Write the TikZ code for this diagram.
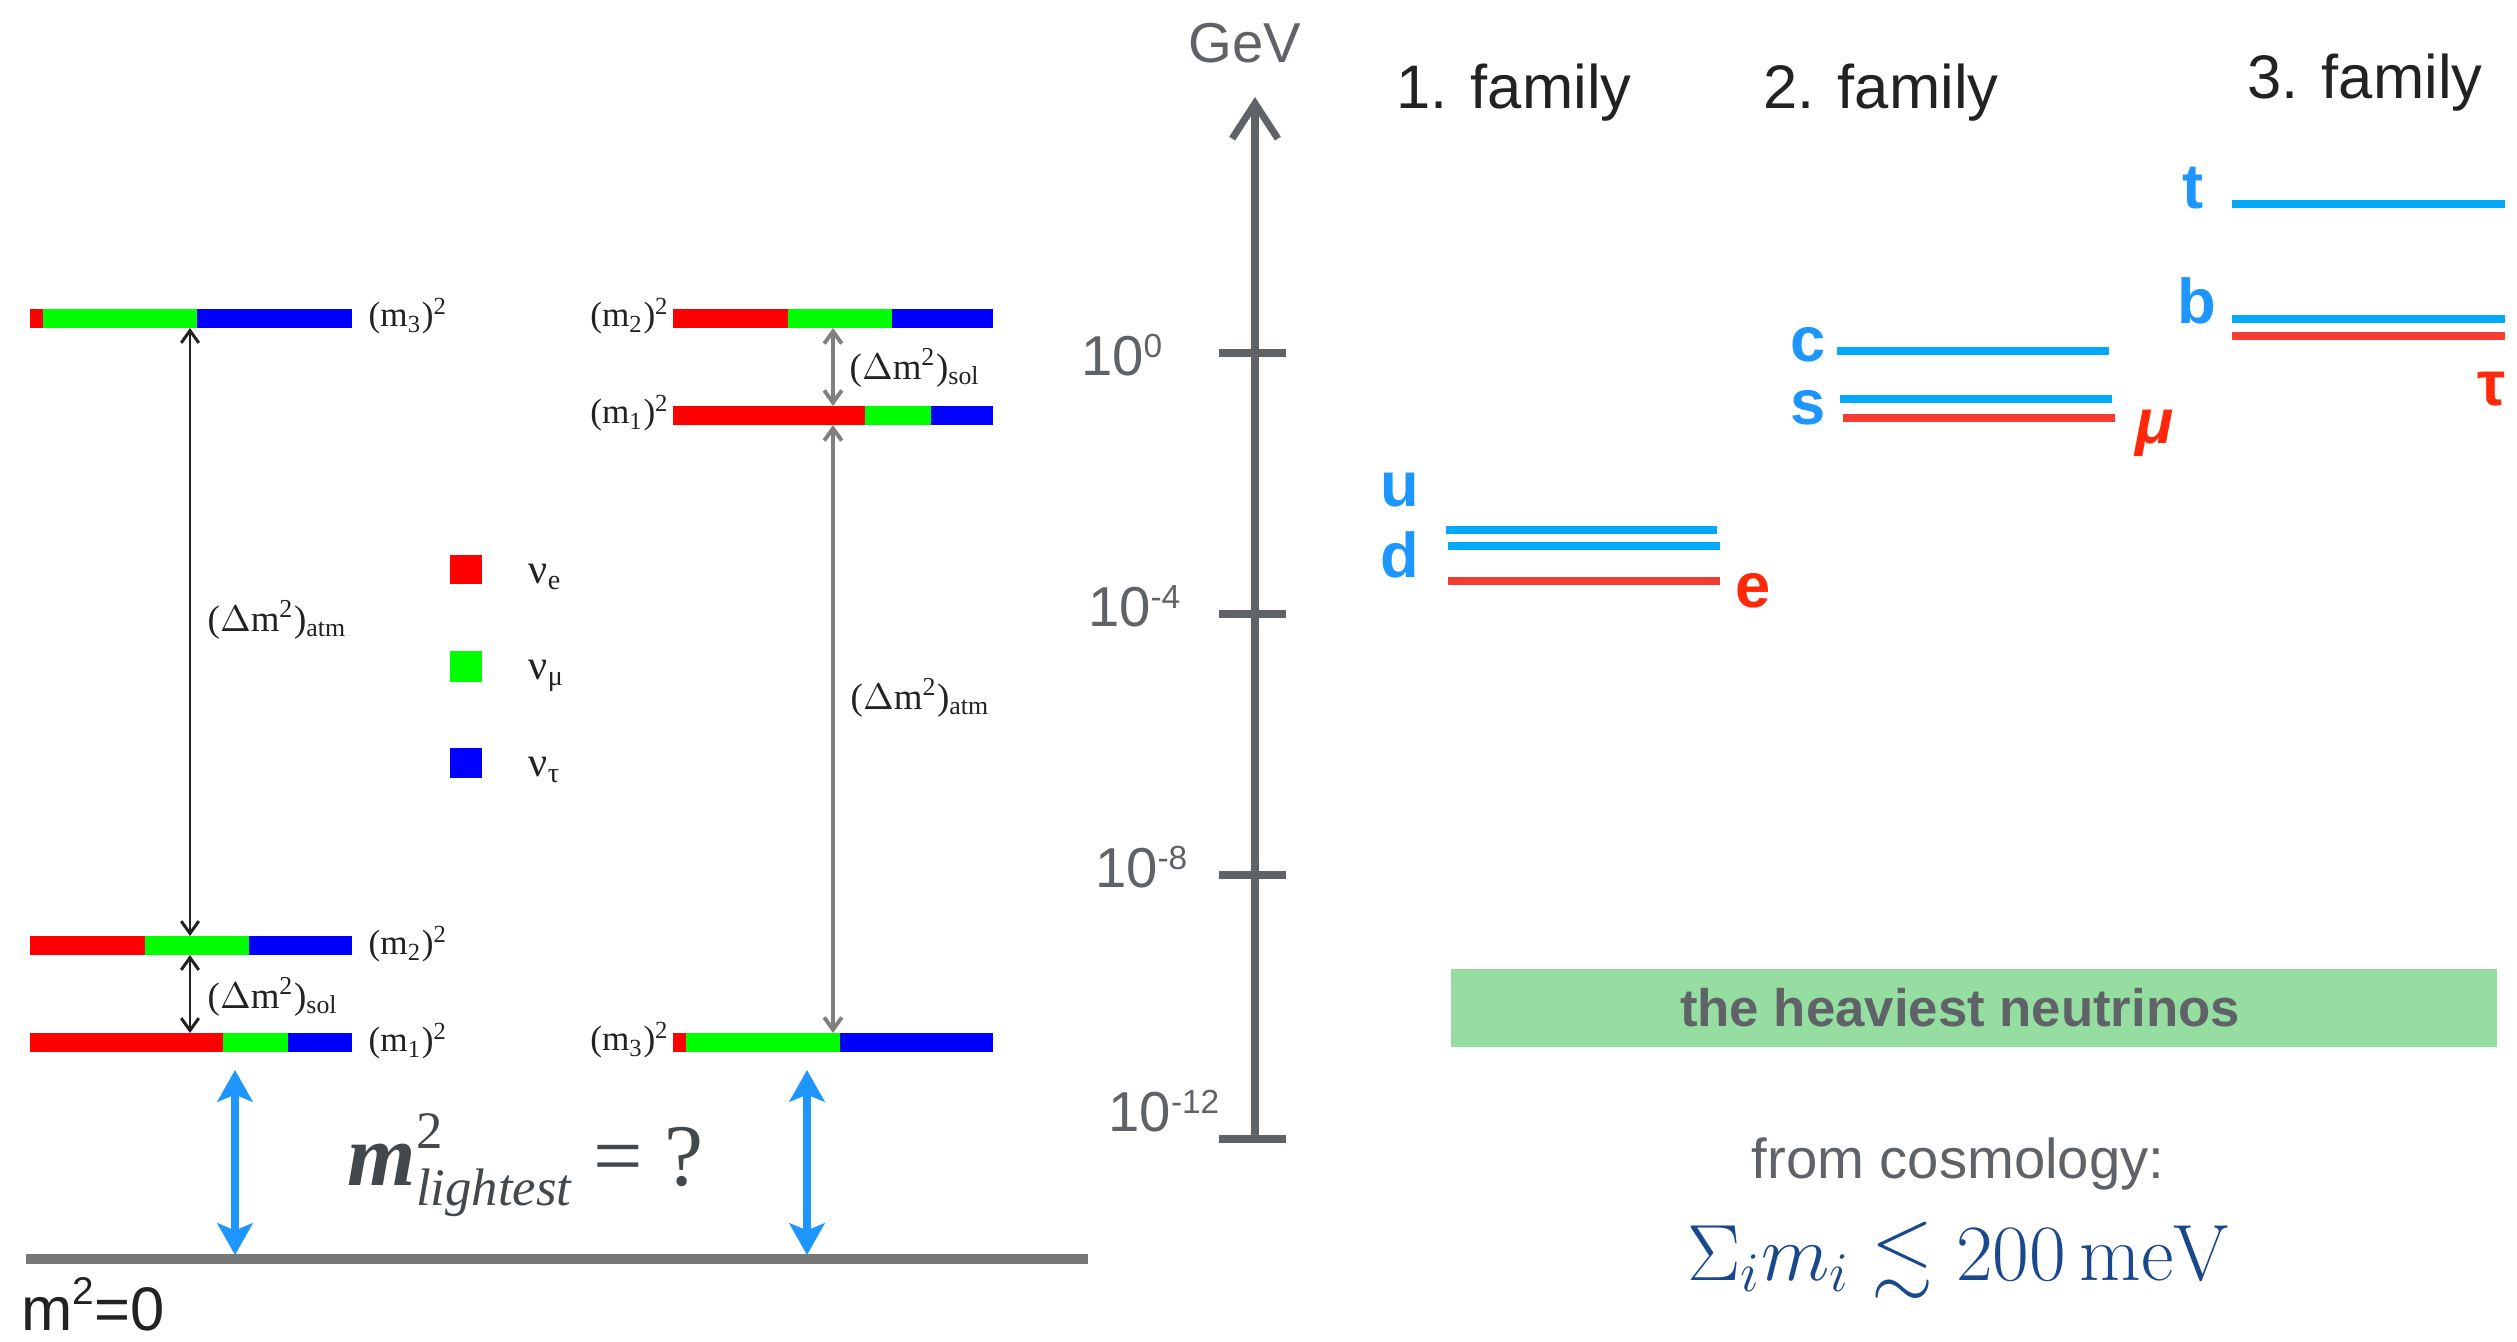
\RequirePackage{fix-cm}
\documentclass[tikz,border=0pt]{standalone}
\usepackage{fontspec}
\usepackage{amssymb}
\newfontfamily\hv{Liberation Sans}
\newfontfamily\tms{Liberation Serif}
\usetikzlibrary{arrows.meta}
\definecolor{nured}{RGB}{255,0,0}
\definecolor{nugreen}{RGB}{0,255,0}
\definecolor{nublue}{RGB}{0,0,255}
\definecolor{axgray}{RGB}{95,99,104}
\definecolor{qblue}{RGB}{3,170,250}
\definecolor{qred}{RGB}{245,60,48}
\definecolor{lblue}{RGB}{30,150,255}
\definecolor{lred}{RGB}{255,40,10}
\definecolor{boxgreen}{RGB}{150,221,161}
\definecolor{fblue}{RGB}{25,72,140}
\definecolor{mgray}{RGB}{67,72,77}
\definecolor{groundgray}{RGB}{119,119,119}
\definecolor{txtdark}{RGB}{34,34,34}
\newcommand\nubar[5]{%
  \fill[nured] (#2,#1) rectangle (#3,#1+19);
  \fill[nugreen] (#3,#1) rectangle (#4,#1+19);
  \fill[nublue] (#4,#1) rectangle (#5,#1+19);}
\tikzset{
  nlbl/.style={inner sep=0, font=\tms\fontsize{10}{12}\selectfont, text=txtdark},
  dlbl/.style={inner sep=0, font=\tms\fontsize{10.5}{12}\selectfont, text=txtdark},
  leg/.style={inner sep=0, font=\tms\fontsize{12}{14}\selectfont, text=txtdark},
  fam/.style={inner sep=0, font=\hv\fontsize{17.5}{21}\selectfont, text=txtdark},
  tickl/.style={inner sep=0, font=\hv\fontsize{16}{19}\selectfont, text=axgray},
  qlbl/.style={inner sep=0, font=\hv\bfseries\fontsize{18}{22}\selectfont, text=lblue},
  rlbl/.style={qlbl, text=lred},
  qline/.style={line width=2.3pt, qblue},
  rline/.style={line width=2.3pt, qred},
  nuarrow/.style={line width=0.85pt, txtdark, {Straight Barb[length=3.5pt,width=5pt]}-{Straight Barb[length=3.5pt,width=5pt]}},
  nuarrowg/.style={nuarrow, line width=1.1pt, black!50},
  bluearrow/.style={line width=2pt, lblue, {Stealth[length=9pt,width=10pt,inset=2pt]}-{Stealth[length=9pt,width=10pt,inset=2pt]}},
  axisln/.style={line width=2pt, axgray},
}
\newcommand\supx[1]{\raisebox{0.32em}{\fontsize{9.5}{11}\selectfont #1}}
\begin{document}
\begin{tikzpicture}[x=0.01cm,y=-0.01cm]
\useasboundingbox (0,0) rectangle (2517,1342);
% ---------- left (normal) neutrino spectrum
\nubar{309}{30}{43}{197}{352}
\nubar{936}{30}{145}{249}{352}
\nubar{1033}{30}{223}{288}{352}
\node[nlbl, anchor=west] (lm3) at (368,316) {(m\textsubscript{3})\textsuperscript{2}};
\node[nlbl, anchor=west] (lm2) at (368,944) {(m\textsubscript{2})\textsuperscript{2}};
\node[nlbl, anchor=west] (lm1) at (368,1041) {(m\textsubscript{1})\textsuperscript{2}};
\coordinate (la1) at (190,328);
\coordinate (la2) at (190,936);
\coordinate (ls1) at (190,955);
\coordinate (ls2) at (190,1033);
\draw[nuarrow] (la1) -- (la2);
\draw[nuarrow] (ls1) -- (ls2);
\node[dlbl, anchor=west] (latm) at (207,620) {($\Delta$m\textsuperscript{2})\textsubscript{atm}};
\node[dlbl, anchor=west] (lsol) at (207,997) {($\Delta$m\textsuperscript{2})\textsubscript{sol}};
% legend
\fill[nured] (450,555) rectangle (482,584);
\fill[nugreen] (450,651) rectangle (482,682);
\fill[nublue] (450,748) rectangle (482,778);
\node[leg, anchor=base west] (nue) at (528,583) {ν\textsubscript{e}};
\node[leg, anchor=base west] (numu) at (528,679) {ν\textsubscript{μ}};
\node[leg, anchor=base west] (nutau) at (528,776) {ν\textsubscript{τ}};
% ---------- right (inverted) neutrino spectrum
\nubar{309}{673}{788}{892}{993}
\nubar{406}{673}{865}{931}{993}
\nubar{1033}{673}{686}{840}{993}
\node[nlbl, anchor=east] (rm2) at (670,316) {(m\textsubscript{2})\textsuperscript{2}};
\node[nlbl, anchor=east] (rm1) at (670,413) {(m\textsubscript{1})\textsuperscript{2}};
\node[nlbl, anchor=east] (rm3) at (670,1040) {(m\textsubscript{3})\textsuperscript{2}};
\coordinate (rs1) at (833,328);
\coordinate (rs2) at (833,406);
\coordinate (ra1) at (833,425);
\coordinate (ra2) at (833,1033);
\draw[nuarrowg] (rs1) -- (rs2);
\draw[nuarrowg] (ra1) -- (ra2);
\node[dlbl, anchor=west] (rsol) at (849,368) {($\Delta$m\textsuperscript{2})\textsubscript{sol}};
\node[dlbl, anchor=west] (ratm) at (850,698) {($\Delta$m\textsuperscript{2})\textsubscript{atm}};
% ---------- ground and lightest mass
\coordinate (gl) at (26,1259);
\coordinate (gr) at (1088,1259);
\draw[line width=2.85pt, groundgray] (gl) -- (gr);
\coordinate (b1t) at (235,1070);
\coordinate (b1b) at (235,1255);
\coordinate (b2t) at (807,1070);
\coordinate (b2b) at (807,1255);
\draw[bluearrow] (b1t) -- (b1b);
\draw[bluearrow] (b2t) -- (b2b);
\node[anchor=base west, inner sep=0, text=mgray] (ml) at (347,1185)
  {\tms\fontsize{25}{30}\selectfont\bfseries\itshape m\rlap{\raisebox{0.42em}{\mdseries\upshape\fontsize{15}{18}\selectfont 2}}\raisebox{-0.23em}{\mdseries\fontsize{15}{18}\selectfont lightest}\mdseries\upshape\ = ?};
\node[anchor=base west, inner sep=0, text=txtdark] (m0) at (21,1330)
  {\hv\fontsize{17.5}{21}\selectfont m\raisebox{0.42em}{\fontsize{11}{13}\selectfont 2}=0};
% ---------- energy axis
\coordinate (axb) at (1255,1139);
\coordinate (axt) at (1255,97);
\draw[axisln, -{Straight Barb[length=10pt,width=13pt]}] (axb) -- (axt);
\foreach \yy in {353,614,875,1139} \draw[axisln] (1219,\yy) -- (1286,\yy);
\node[tickl, anchor=base west] (gev) at (1188,62) {GeV};
\node[tickl, anchor=base east] (t0) at (1163,375) {10\supx{0}};
\node[tickl, anchor=base east] (t4) at (1181,626) {10\supx{-4}};
\node[tickl, anchor=base east] (t8) at (1188,887) {10\supx{-8}};
\node[tickl, anchor=base east] (t12) at (1220,1131) {10\supx{-12}};
% ---------- families
\node[fam, anchor=base west] (f1) at (1396,108) {1. family};
\node[fam, anchor=base west] (f2) at (1763,108) {2. family};
\node[fam, anchor=base west] (f3) at (2247,98) {3. family};
% quark and lepton levels
\draw[qline] (2232,204) -- (2505,204);
\draw[qline] (2232,319) -- (2505,319);
\draw[rline] (2232,336) -- (2505,336);
\draw[qline] (1837,351) -- (2109,351);
\draw[qline] (1840,399) -- (2112,399);
\draw[rline] (1843,418) -- (2115,418);
\draw[qline] (1446,530) -- (1717,530);
\draw[qline] (1448,546) -- (1720,546);
\draw[rline] (1448,581) -- (1720,581);
\node[qlbl, anchor=base west] (lt) at (2182,208) {t};
\node[qlbl, anchor=base west] (lb) at (2177,323) {b};
\node[rlbl, anchor=base west] (ltau) at (2477,405) {τ};
\node[qlbl, anchor=base west] (lc) at (1790,361) {c};
\node[qlbl, anchor=base west] (ls) at (1790,424) {s};
\node[rlbl, anchor=base west, font=\hv\bfseries\itshape\fontsize{18}{22}\selectfont] (lmu) at (2135,443) {μ};
\node[qlbl, anchor=base west] (lu) at (1380,506) {u};
\node[qlbl, anchor=base west] (ld) at (1380,577) {d};
\node[rlbl, anchor=base west] (le) at (1735,607) {e};
% heaviest neutrinos band
\fill[boxgreen] (1451,969) rectangle (2497,1047);
\node[inner sep=0, font=\hv\bfseries\fontsize{15}{18}\selectfont, text=axgray] (heavy) at (1960,1008) {the heaviest neutrinos};
\node[inner sep=0, anchor=base, font=\hv\fontsize{16}{19}\selectfont, text=axgray] (cosmo) at (1958,1178) {from cosmology:};
\node[inner sep=0, anchor=base, text=fblue] (sum) at (1958,1280) {\fontsize{22.7}{27}\selectfont $\Sigma_i m_i \lesssim 200\,\mathrm{meV}$};
\end{tikzpicture}
\end{document}
